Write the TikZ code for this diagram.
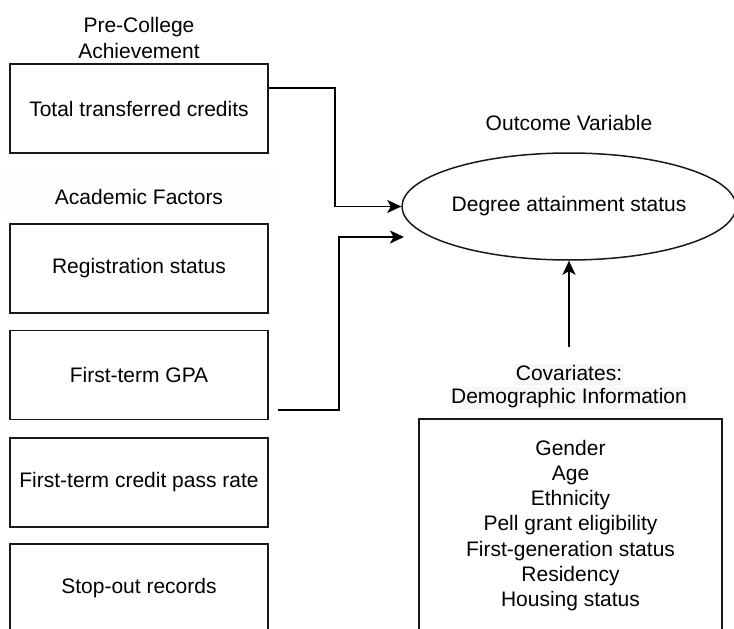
\documentclass[tikz,border=0pt]{standalone}
\usepackage{fontspec}
\setmainfont{Liberation Sans}
\usetikzlibrary{arrows.meta,shapes.geometric}
\begin{document}
\begin{tikzpicture}[x=1pt,y=-1pt,
  every node/.style={font=\fontsize{21}{25.3}\selectfont, text=black},
  box/.style={draw=black!90, line width=1.6pt, minimum width=258pt, minimum height=89pt, inner sep=0pt, align=center},
  lbl/.style={align=center, inner sep=0pt},
  hl/.style={fill=gray!6, inner xsep=1.5pt, inner ysep=1pt, text height=15.5pt, text depth=4.5pt},
  arr/.style={draw=black, line width=1.5pt, -{Stealth[length=14pt,width=13pt,inset=3.5pt]}},
  conn/.style={draw=black, line width=1.5pt}]
\useasboundingbox (0,0) rectangle (734,629);
\fill[gray!0.8] (0,169) rectangle (277,215);
% left column
\node[lbl] (pre) at (139,38) {Pre-College\\Achievement};
\node[box] (b1) at (139,108.5) {Total transferred credits};
\node[lbl] (acad) at (139,197) {Academic Factors};
\node[box] (b2) at (139,268.5) {Registration status};
\node[box] (b3) at (139,375) {First-term GPA};
\node[box] (b4) at (139,482.5) {First-term credit pass rate};
\node[box] (b5) at (139,588.5) {Stop-out records};
% outcome
\node[lbl] (out) at (569,123) {Outcome Variable};
\node[ellipse, draw=black!90, line width=1.5pt, minimum width=334pt, minimum height=107pt, inner sep=0pt] (ell) at (569,206.5) {Degree attainment status};
% covariates
\node[hl] (cov1) at (569,374.5) {Covariates:};
\node[hl] (cov2) at (569,398) {Demographic Information};
\node[box, minimum width=303pt, minimum height=213pt] (covbox) at (570.5,525.5) {Gender\\Age\\Ethnicity\\Pell grant eligibility\\First-generation status\\Residency\\Housing status};
% connectors
\coordinate (g0) at (278,410);
\coordinate (g1) at (404,237);
\coordinate (covtop) at (569,347);
\draw[arr] ([yshift=20.5pt]b1.east) -- ++(66,0) |- (ell.west);
\draw[arr] (g0) -- ++(61,0) |- (g1);
\draw[arr] (covtop) -- (ell.south);
\end{tikzpicture}
\end{document}
